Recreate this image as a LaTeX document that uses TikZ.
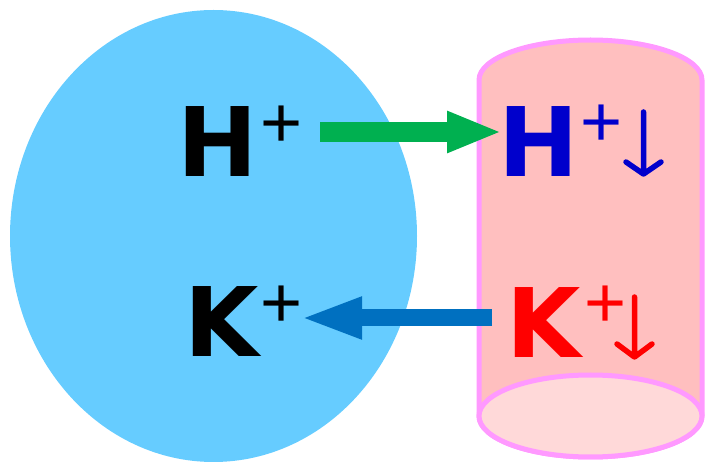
\documentclass[tikz,border=0pt]{standalone}
\usepackage{fontspec}
\setmainfont{Liberation Sans}
\newfontfamily\ionfont{DejaVu Sans}
\usetikzlibrary{arrows.meta,shapes.geometric}
\definecolor{cellblue}{HTML}{66CCFF}
\definecolor{tubebody}{HTML}{FFBFBF}
\definecolor{tubebottom}{HTML}{FFD9D9}
\definecolor{tubeedge}{HTML}{FF99FF}
\definecolor{hgreen}{HTML}{00B050}
\definecolor{kblue}{HTML}{0070C0}
\definecolor{hdark}{HTML}{0000CC}
\definecolor{kred}{HTML}{FF0000}
\begin{document}
\begin{tikzpicture}[x=1pt,y=-1pt,
  ion/.style={inner sep=0pt,anchor=base west,font=\fontsize{96}{96}\selectfont\ionfont\bfseries},
  charge/.style={inner sep=0pt,anchor=base west,font=\fontsize{72}{72}\selectfont},
  drop/.style={line width=5.5pt,line cap=round,line join=round}]
\useasboundingbox (0,0) rectangle (705,462);
% cell
\node (cell) [ellipse,fill=cellblue,inner sep=0pt,minimum width=407pt,minimum height=452pt] at (213.5,236) {};
% tube
\path[fill=tubebody,draw=tubeedge,line width=5pt]
  (479,416) -- (479,80) arc[start angle=180,end angle=360,x radius=111.5,y radius=40]
  -- (702,416) arc[start angle=0,end angle=180,x radius=111.5,y radius=41] -- cycle;
\draw[fill=tubebottom,draw=tubeedge,line width=5pt] (590.5,416) ellipse[x radius=111.5,y radius=41];
% labels in cell
\node (H) [ion] at (177,177) {H};
\node (Hp) [charge] at (260,148) {+};
\node (K) [ion] at (184,357) {K};
\node (Kp) [charge] at (260,328) {+};
% labels in tube
\node (Ht) [ion,text=hdark] at (498,177) {H};
\node (Htp) [charge,text=hdark] at (580,147) {+};
\node (Kt) [ion,text=kred] at (506,358) {K};
\node (Ktp) [charge,text=kred] at (584,328) {+};
% down arrows
\coordinate (hd1) at (643.5,112);
\coordinate (hd2) at (643.5,174);
\draw[drop,hdark] (hd1) -- (hd2) (626,162) -- (hd2) -- (661,162);
\coordinate (kd1) at (634.5,297);
\coordinate (kd2) at (634.5,357);
\draw[drop,kred] (kd1) -- (kd2) (617,344) -- (kd2) -- (652,344);
% transport arrows
\coordinate (gs) at (320,132);
\coordinate (ge) at (502,132);
\draw[hgreen,line width=20pt,-{Triangle[length=55pt,width=38pt]}] (gs) -- (ge);
\coordinate (bs) at (492,318);
\coordinate (be) at (300,318);
\draw[kblue,line width=17pt,-{Triangle[length=62pt,width=38pt]}] (bs) -- (be);
\end{tikzpicture}
\end{document}
